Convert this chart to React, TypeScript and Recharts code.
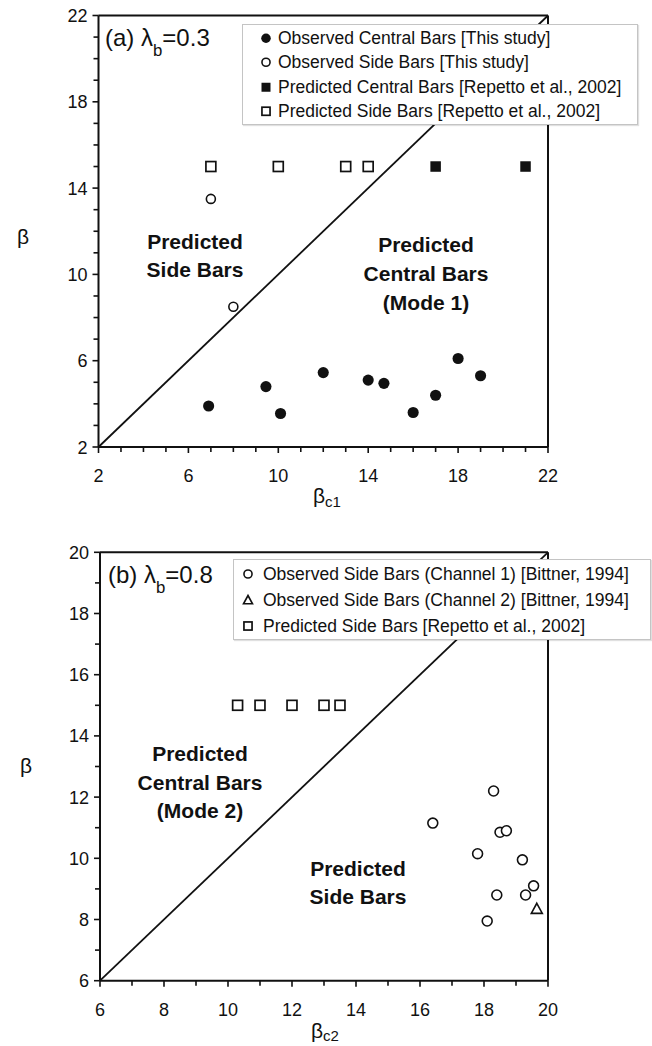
import React from 'react';
import { ScatterChart, Scatter, XAxis, YAxis, ReferenceLine, Legend } from 'recharts';

const FONT = '"Liberation Sans", Arial, Helvetica, sans-serif';
const INK = '#111';

// ---------- Panel (a) data ----------
const aXDomain = [2, 22];
const aYDomain = [2, 22];
const aXTicks = [2, 3, 4, 5, 6, 7, 8, 9, 10, 11, 12, 13, 14, 15, 16, 17, 18, 19, 20, 21, 22];
const aYTicks = [2, 3, 4, 5, 6, 7, 8, 9, 10, 11, 12, 13, 14, 15, 16, 17, 18, 19, 20, 21, 22];
const aMajorTicks = [2, 6, 10, 14, 18, 22];
const aDiagonal = [2, 22];

const aObservedCentral = [
  { x: 6.9, y: 3.9 }, { x: 9.45, y: 4.8 }, { x: 10.1, y: 3.55 }, { x: 12.0, y: 5.45 },
  { x: 14.0, y: 5.1 }, { x: 14.7, y: 4.95 }, { x: 16.0, y: 3.6 }, { x: 17.0, y: 4.4 },
  { x: 18.0, y: 6.1 }, { x: 19.0, y: 5.3 },
];
const aObservedSide = [{ x: 7.0, y: 13.5 }, { x: 8.0, y: 8.5 }];
const aPredictedCentral = [{ x: 17, y: 15 }, { x: 21, y: 15 }];
const aPredictedSide = [{ x: 7, y: 15 }, { x: 10, y: 15 }, { x: 13, y: 15 }, { x: 14, y: 15 }];

const aNames = [
  'Observed Central Bars [This study]',
  'Observed Side Bars [This study]',
  'Predicted Central Bars [Repetto et al., 2002]',
  'Predicted Side Bars [Repetto et al., 2002]',
];

// ---------- Panel (b) data ----------
const bXDomain = [6, 20];
const bYDomain = [6, 20];
const bXTicks = [6, 7, 8, 9, 10, 11, 12, 13, 14, 15, 16, 17, 18, 19, 20];
const bYTicks = [6, 7, 8, 9, 10, 11, 12, 13, 14, 15, 16, 17, 18, 19, 20];
const bMajorTicks = [6, 8, 10, 12, 14, 16, 18, 20];
const bDiagonal = [6, 20];

const bObservedChannel1 = [
  { x: 16.4, y: 11.15 }, { x: 18.3, y: 12.2 }, { x: 17.8, y: 10.15 }, { x: 18.5, y: 10.85 },
  { x: 18.7, y: 10.9 }, { x: 19.2, y: 9.95 }, { x: 19.55, y: 9.1 }, { x: 19.3, y: 8.8 },
  { x: 18.4, y: 8.8 }, { x: 18.1, y: 7.95 },
];
const bObservedChannel2 = [{ x: 19.65, y: 8.35 }];
const bPredictedSide = [
  { x: 10.3, y: 15 }, { x: 11, y: 15 }, { x: 12, y: 15 }, { x: 13, y: 15 }, { x: 13.5, y: 15 },
];

const bNames = [
  'Observed Side Bars (Channel 1) [Bittner, 1994]',
  'Observed Side Bars (Channel 2) [Bittner, 1994]',
  'Predicted Side Bars [Repetto et al., 2002]',
];

// ---------- markers ----------
type MarkerKind = 'filledCircle' | 'openCircle' | 'filledSquare' | 'openSquare' | 'openTriangle';

const drawMarker = (kind: MarkerKind, cx: number, cy: number, s: number) => {
  switch (kind) {
    case 'filledCircle':
      return <circle cx={cx} cy={cy} r={s * 0.53} fill={INK} />;
    case 'openCircle':
      return <circle cx={cx} cy={cy} r={s * 0.45} fill="#fff" stroke={INK} strokeWidth={1.6} />;
    case 'filledSquare':
      return <rect x={cx - s / 2} y={cy - s / 2} width={s} height={s} fill={INK} />;
    case 'openSquare':
      return (
        <rect x={cx - s * 0.45} y={cy - s * 0.45} width={s * 0.9} height={s * 0.9} fill="#fff" stroke={INK} strokeWidth={1.7} />
      );
    case 'openTriangle':
      return (
        <polygon
          points={`${cx},${cy - s * 0.5} ${cx + s * 0.5},${cy + s * 0.42} ${cx - s * 0.5},${cy + s * 0.42}`}
          fill="#fff"
          stroke={INK}
          strokeWidth={1.6}
        />
      );
  }
  return null;
};

const shapeFor = (kind: MarkerKind, size: number) => (p: any) => (
  <g>{drawMarker(kind, p.cx, p.cy, size)}</g>
);

// ---------- ticks ----------
const makeXTick = (majors: number[]) => (props: any) => {
  const { x, y, payload } = props;
  const v = payload.value;
  const major = majors.includes(v);
  return (
    <g>
      <line x1={x} y1={y} x2={x} y2={y + (major ? 6 : 5)} stroke={INK} strokeWidth={1.6} />
      {major && (
        <text x={x} y={y + 35} textAnchor="middle" fontSize={18} fill={INK} fontFamily={FONT}>
          {v}
        </text>
      )}
    </g>
  );
};

const makeYTick = (majors: number[]) => (props: any) => {
  const { x, y, payload } = props;
  const v = payload.value;
  const major = majors.includes(v);
  return (
    <g>
      <line x1={x - (major ? 6 : 5)} y1={y} x2={x} y2={y} stroke={INK} strokeWidth={1.6} />
      {major && (
        <text x={x - 11} y={y + 6.5} textAnchor="end" fontSize={18} fill={INK} fontFamily={FONT}>
          {v}
        </text>
      )}
    </g>
  );
};

// ---------- legend ----------
type LegendBox = { left: number; top: number; width: number; height: number; rowH: number; markerX: number; textX: number };

const makeLegend = (kinds: Record<string, MarkerKind>, box: LegendBox) => (props: any) => {
  const payload = props.payload || [];
  return (
    <div
      style={{
        width: box.width,
        height: box.height,
        boxSizing: 'border-box',
        background: '#fff',
        border: '1.5px solid #c4c4c4',
        boxShadow: '1px 1px 1px rgba(0,0,0,0.12)',
        position: 'relative',
        fontFamily: FONT,
        fontSize: 17.5,
        color: INK,
      }}
    >
      {payload.map((p: any, i: number) => (
        <div
          key={i}
          style={{
            position: 'absolute',
            left: 0,
            top: (box.height - payload.length * box.rowH) / 2 + i * box.rowH - 1,
            height: box.rowH,
            width: box.width,
          }}
        >
          <svg width={20} height={box.rowH} style={{ position: 'absolute', left: box.markerX - 10, top: 0 }}>
            {drawMarker(kinds[p.value], 10, box.rowH / 2, 9)}
          </svg>
          <span
            style={{
              position: 'absolute',
              left: box.textX,
              top: 0,
              lineHeight: `${box.rowH}px`,
              whiteSpace: 'nowrap',
            }}
          >
            {p.value}
          </span>
        </div>
      ))}
    </div>
  );
};

// ---------- panel ----------
type SeriesDef = { name: string; data: { x: number; y: number }[]; kind: MarkerKind; size: number };

type PanelProps = {
  height: number;
  margin: { top: number; right: number; bottom: number; left: number };
  yAxisWidth: number;
  xDomain: number[];
  yDomain: number[];
  xTicks: number[];
  yTicks: number[];
  majors: number[];
  diagonal: number[];
  series: SeriesDef[];
  legend: LegendBox;
};

const Panel = (pp: PanelProps) => {
  const kinds: Record<string, MarkerKind> = {};
  pp.series.forEach((s) => (kinds[s.name] = s.kind));
  return (
    <ScatterChart width={652} height={pp.height} margin={pp.margin} style={{ fontFamily: FONT }}>
      <XAxis
        type="number"
        dataKey="x"
        domain={pp.xDomain}
        ticks={pp.xTicks}
        interval={0}
        allowDataOverflow
        tickSize={0}
        tickMargin={0}
        tickLine={false}
        height={40}
        axisLine={{ stroke: INK, strokeWidth: 2 }}
        tick={makeXTick(pp.majors)}
      />
      <YAxis
        type="number"
        dataKey="y"
        domain={pp.yDomain}
        ticks={pp.yTicks}
        interval={0}
        allowDataOverflow
        tickSize={0}
        tickMargin={0}
        tickLine={false}
        width={pp.yAxisWidth}
        axisLine={{ stroke: INK, strokeWidth: 2 }}
        tick={makeYTick(pp.majors)}
      />
      <ReferenceLine y={pp.yDomain[1]} stroke={INK} strokeWidth={2} />
      <ReferenceLine x={pp.xDomain[1]} stroke={INK} strokeWidth={2} />
      <ReferenceLine
        segment={[
          { x: pp.diagonal[0], y: pp.diagonal[0] },
          { x: pp.diagonal[1], y: pp.diagonal[1] },
        ]}
        stroke={INK}
        strokeWidth={1.8}
      />
      {pp.series.map((s) => (
        <Scatter
          key={s.name}
          name={s.name}
          data={s.data}
          fill={INK}
          isAnimationActive={false}
          shape={shapeFor(s.kind, s.size)}
        />
      ))}
      <Legend
        layout="vertical"
        align="center"
        verticalAlign="middle"
        width={pp.legend.width}
        height={pp.legend.height}
        wrapperStyle={{ left: pp.legend.left, top: pp.legend.top, width: pp.legend.width, height: pp.legend.height }}
        content={makeLegend(kinds, pp.legend)}
      />
    </ScatterChart>
  );
};

const Sub = ({ children }: { children: React.ReactNode }) => (
  <tspan baselineShift="sub" fontSize="0.7em">{children}</tspan>
);

export default function App() {
  const seriesA: SeriesDef[] = [
    { name: aNames[0], data: aObservedCentral, kind: 'filledCircle', size: 10.5 },
    { name: aNames[1], data: aObservedSide, kind: 'openCircle', size: 10 },
    { name: aNames[2], data: aPredictedCentral, kind: 'filledSquare', size: 10.5 },
    { name: aNames[3], data: aPredictedSide, kind: 'openSquare', size: 11 },
  ];
  const seriesB: SeriesDef[] = [
    { name: bNames[0], data: bObservedChannel1, kind: 'openCircle', size: 11 },
    { name: bNames[1], data: bObservedChannel2, kind: 'openTriangle', size: 11 },
    { name: bNames[2], data: bPredictedSide, kind: 'openSquare', size: 11 },
  ];

  const textStyle = { fontFamily: FONT, fill: INK } as const;

  return (
    <div style={{ position: 'absolute', left: 0, top: 0, width: 652, height: 1046, background: '#fff' }}>
      {/* Panel (a) */}
      <div style={{ position: 'absolute', left: 0, top: 0, width: 652, height: 530 }}>
        <Panel
          height={530}
          margin={{ top: 15.5, right: 104, bottom: 43, left: 0.5 }}
          yAxisWidth={98}
          xDomain={aXDomain}
          yDomain={aYDomain}
          xTicks={aXTicks}
          yTicks={aYTicks}
          majors={aMajorTicks}
          diagonal={aDiagonal}
          series={seriesA}
          legend={{ left: 242, top: 24, width: 396, height: 101, rowH: 24.5, markerX: 23, textX: 35 }}
        />
        <svg width={652} height={530} style={{ position: 'absolute', left: 0, top: 0, pointerEvents: 'none' }}>
          <text x={105} y={46} fontSize={24} {...textStyle}>
            (a) λ<Sub>b</Sub><tspan>=0.3</tspan>
          </text>
          <text x={23} y={244} fontSize={21} textAnchor="middle" {...textStyle}>β</text>
          <text x={313} y={503} fontSize={21} {...textStyle}>
            β<tspan fontSize={15} dy={4}>c1</tspan>
          </text>
          <g fontWeight="bold" fontSize={21} textAnchor="middle" {...textStyle}>
            <text x={195} y={248.5}>Predicted</text>
            <text x={195} y={276.5}>Side Bars</text>
            <text x={426} y={251.5}>Predicted</text>
            <text x={426} y={280.5}>Central Bars</text>
            <text x={426} y={309.5}>(Mode 1)</text>
          </g>
        </svg>
      </div>

      {/* Panel (b) */}
      <div style={{ position: 'absolute', left: 0, top: 530, width: 652, height: 516 }}>
        <Panel
          height={516}
          margin={{ top: 22.3, right: 104, bottom: 25.3, left: 0 }}
          yAxisWidth={100}
          xDomain={bXDomain}
          yDomain={bYDomain}
          xTicks={bXTicks}
          yTicks={bYTicks}
          majors={bMajorTicks}
          diagonal={bDiagonal}
          series={seriesB}
          legend={{ left: 233, top: 29, width: 418, height: 81, rowH: 26, markerX: 14, textX: 29 }}
        />
        <svg width={652} height={516} style={{ position: 'absolute', left: 0, top: 0, pointerEvents: 'none' }}>
          <text x={108} y={53} fontSize={24} {...textStyle}>
            (b) λ<Sub>b</Sub><tspan>=0.8</tspan>
          </text>
          <text x={26} y={242.5} fontSize={21} textAnchor="middle" {...textStyle}>β</text>
          <text x={311} y={508} fontSize={21} {...textStyle}>
            β<tspan fontSize={15} dy={3}>c2</tspan>
          </text>
          <g fontWeight="bold" fontSize={21} textAnchor="middle" {...textStyle}>
            <text x={200} y={230.5}>Predicted</text>
            <text x={200} y={259.5}>Central Bars</text>
            <text x={200} y={287.5}>(Mode 2)</text>
            <text x={358} y={345.5}>Predicted</text>
            <text x={358} y={373.5}>Side Bars</text>
          </g>
        </svg>
      </div>
    </div>
  );
}
